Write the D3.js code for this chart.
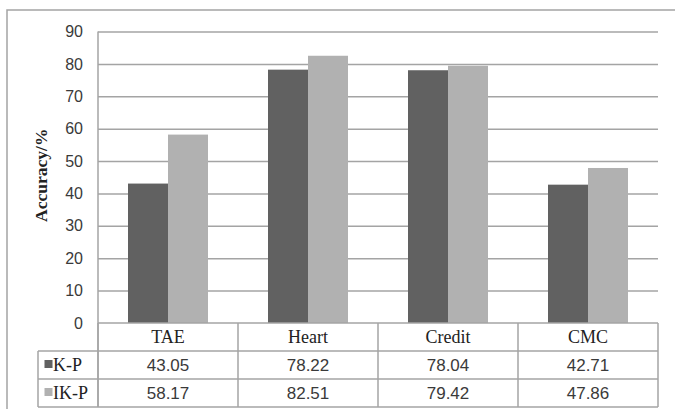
<!DOCTYPE html>
<html>
<head>
<meta charset="utf-8">
<script src="https://cdn.jsdelivr.net/npm/d3@7/dist/d3.min.js"></script>
<style>
  html, body { margin: 0; padding: 0; background: #fff; }
  svg { display: block; }
</style>
</head>
<body>
<script>
// Dataset categories and accuracy (%) for the two methods
const categories = ["TAE", "Heart", "Credit", "CMC"];
const seriesNames = ["K-P", "IK-P"];
const kpValues = [43.05, 78.22, 78.04, 42.71];
const ikpValues = [58.17, 82.51, 79.42, 47.86];
const yTicks = [0, 10, 20, 30, 40, 50, 60, 70, 80, 90];

const seriesValues = [kpValues, ikpValues];
const colors = ["#616161", "#b1b1b1"];

const W = 675, H = 409;
const plot = { left: 98, right: 658, top: 31.5, bottom: 323 };
const rowH = 28;
const legendLeft = 38;
const lineColor = "#a4a4a4";
const serif = "'Liberation Serif', 'Times New Roman', serif";
const sans = "'Liberation Sans', Arial, sans-serif";

const svg = d3.select("body").append("svg")
  .attr("width", W).attr("height", H);

// outer chart frame
svg.append("rect")
  .attr("x", 7).attr("y", 10)
  .attr("width", W - 7 + 5).attr("height", H)
  .attr("fill", "none").attr("stroke", lineColor).attr("stroke-width", 1.5);

const y = d3.scaleLinear().domain([0, 90]).range([plot.bottom, plot.top]);
const x0 = d3.scaleBand().domain(categories)
  .range([plot.left, plot.right])
  .paddingInner(3 / 7).paddingOuter(3 / 14);
const x1 = d3.scaleBand().domain(seriesNames).range([0, x0.bandwidth()]);

// horizontal gridlines
const grid = svg.append("g")
  .attr("transform", `translate(${plot.left},0)`)
  .call(d3.axisLeft(y).tickValues(yTicks.slice(1))
    .tickSize(-(plot.right - plot.left)).tickFormat(""));
grid.select(".domain").remove();
grid.selectAll("line").attr("stroke", lineColor).attr("stroke-width", 1.5);

// left frame of the plot area
svg.append("line")
  .attr("x1", plot.left).attr("x2", plot.left)
  .attr("y1", y(90)).attr("y2", plot.bottom + 3 * rowH)
  .attr("stroke", lineColor).attr("stroke-width", 1.5);

// y tick labels
const yAxis = svg.append("g")
  .attr("transform", `translate(${plot.left - 15},0)`)
  .call(d3.axisLeft(y).tickValues(yTicks).tickSize(0).tickPadding(0));
yAxis.select(".domain").remove();
yAxis.selectAll("text")
  .attr("font-family", sans).attr("font-size", 16).attr("fill", "#3a3a3a");

// y axis title
svg.append("text")
  .attr("transform", `translate(47,${(plot.top + plot.bottom) / 2 - 2}) rotate(-90)`)
  .attr("text-anchor", "middle")
  .attr("font-family", serif).attr("font-weight", "bold")
  .attr("font-size", 17.5).attr("fill", "#222")
  .text("Accuracy/%");

// bars
const groups = svg.append("g").selectAll("g")
  .data(categories)
  .join("g")
  .attr("transform", d => `translate(${x0(d)},0)`);

groups.selectAll("rect")
  .data((d, i) => seriesNames.map((s, j) => ({ s, j, v: seriesValues[j][i] })))
  .join("rect")
  .attr("x", d => x1(d.s))
  .attr("width", x1.bandwidth())
  .attr("y", d => y(d.v))
  .attr("height", d => y(0) - y(d.v))
  .attr("fill", d => colors[d.j]);

// data table below the plot
const tbl = svg.append("g").attr("stroke", lineColor).attr("stroke-width", 1.5);
const step = x0.step();
const colEdges = categories.map((c, i) => plot.left + i * step).concat([plot.right]);
colEdges.forEach(cx => {
  tbl.append("line").attr("x1", cx).attr("x2", cx)
    .attr("y1", plot.bottom).attr("y2", plot.bottom + 3 * rowH);
});
tbl.append("line").attr("x1", legendLeft).attr("x2", legendLeft)
  .attr("y1", plot.bottom + rowH).attr("y2", plot.bottom + 3 * rowH);
tbl.append("line").attr("x1", plot.left).attr("x2", plot.right)
  .attr("y1", plot.bottom).attr("y2", plot.bottom);
[1, 2, 3].forEach(r => {
  tbl.append("line").attr("x1", legendLeft).attr("x2", plot.right)
    .attr("y1", plot.bottom + r * rowH).attr("y2", plot.bottom + r * rowH);
});

// category header row
svg.append("g").selectAll("text")
  .data(categories)
  .join("text")
  .attr("x", d => x0(d) + x0.bandwidth() / 2)
  .attr("y", plot.bottom + rowH / 2 + 6)
  .attr("text-anchor", "middle")
  .attr("font-family", serif).attr("font-size", 18).attr("fill", "#222")
  .text(d => d);

// series rows: legend key and values
seriesNames.forEach((s, j) => {
  const rowMid = plot.bottom + (j + 1) * rowH + rowH / 2;
  svg.append("rect")
    .attr("x", 44.5).attr("y", rowMid - 5)
    .attr("width", 8).attr("height", 8)
    .attr("fill", colors[j]);
  svg.append("text")
    .attr("x", 53).attr("y", rowMid + 6)
    .attr("font-family", serif).attr("font-size", 18).attr("fill", "#222")
    .text(s);
  svg.append("g").selectAll("text")
    .data(categories)
    .join("text")
    .attr("x", d => x0(d) + x0.bandwidth() / 2)
    .attr("y", rowMid + 6)
    .attr("text-anchor", "middle")
    .attr("font-family", sans).attr("font-size", 17).attr("fill", "#3a3a3a")
    .text((d, i) => seriesValues[j][i].toFixed(2));
});
</script>
</body>
</html>
